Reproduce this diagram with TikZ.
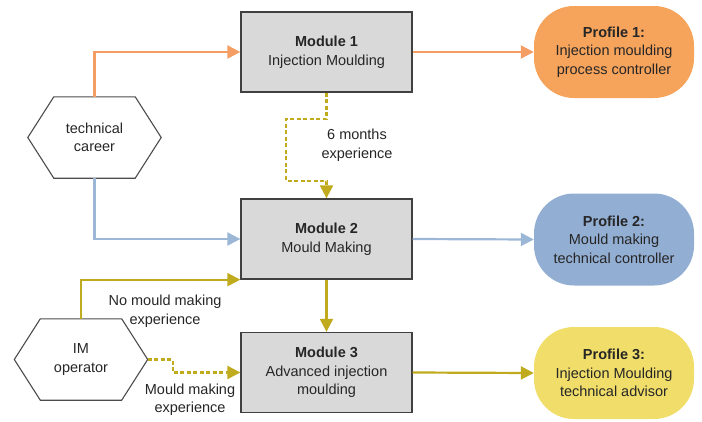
\documentclass[tikz,border=0pt]{standalone}
\usepackage{fontspec}
\setmainfont{Liberation Sans}
\usetikzlibrary{positioning, arrows.meta}

\definecolor{orangeline}{RGB}{245,158,100}
\definecolor{orangefill}{RGB}{246,163,92}
\definecolor{blueline}{RGB}{156,182,214}
\definecolor{bluefill}{RGB}{147,174,211}
\definecolor{oliveline}{RGB}{192,170,30}
\definecolor{yellowfill}{RGB}{240,221,106}
\definecolor{boxgray}{RGB}{217,217,217}

\begin{document}
\begin{tikzpicture}[x=1pt, y=-1pt,
        every node/.style={font=\fontsize{14.5}{18.5}\selectfont, text=black!85, align=center},
        module/.style={draw=black!75, line width=1.3pt, fill=boxgray, minimum width=171pt, minimum height=80pt, inner sep=0pt},
        profile/.style={rounded corners=40pt, minimum width=160pt, minimum height=92pt, inner sep=0pt},
        hexnode/.style={minimum width=133pt, minimum height=81pt, inner sep=0pt},
        hexline/.style={draw=black!70, line width=1.1pt},
        flow/.style={line width=2.2pt, -{Triangle[length=13pt,width=13pt]}},
        exp/.style={flow, dash pattern=on 4pt off 2.5pt}]
        % the page
        \useasboundingbox (0,0) rectangle (702,421);

        % the modules
        \node[module] (m1) at (326.5,52) {\textbf{Module 1}\\Injection Moulding};
        \node[module] (m2) at (326.5,239) {\textbf{Module 2}\\Mould Making};
        \node[module] (m3) at (326.5,372.5) {\textbf{Module 3}\\Advanced injection\\moulding};

        % the profiles
        \node[profile, fill=orangefill] (p1) at (614,52) {\textbf{Profile 1:}\\Injection moulding\\process controller};
        \node[profile, fill=bluefill] (p2) at (614,239.5) {\textbf{Profile 2:}\\Mould making\\technical controller};
        \node[profile, fill=yellowfill] (p3) at (614,373) {\textbf{Profile 3:}\\Injection Moulding\\technical advisor};

        % the entry hexagons
        \node[hexnode] (career) at (94.5,137.5) {technical\\career};
        \node[hexnode] (im) at (81,359.5) {IM\\operator};
        \draw[hexline] (career.west) -- ([xshift=26pt]career.north west) -- ([xshift=-26pt]career.north east)
            -- (career.east) -- ([xshift=-26pt]career.south east) -- ([xshift=26pt]career.south west) -- cycle;
        \draw[hexline] (im.west) -- ([xshift=26pt]im.north west) -- ([xshift=-26pt]im.north east)
            -- (im.east) -- ([xshift=-26pt]im.south east) -- ([xshift=26pt]im.south west) -- cycle;

        % orange route
        \draw[flow, orangeline] (career.north) |- (m1.west);
        \draw[flow, orangeline] (m1.east) -- (p1.west);

        % blue route
        \draw[flow, blueline] (career.south) |- (m2.west);
        \draw[flow, blueline] (m2.east) -- (p2.west);

        % olive routes
        \draw[exp, oliveline] (m1.south) -- ++(0,26) -- ++(-40.5,0) -- ++(0,62) -- ++(40.5,0) -- (m2.north);
        \node (six) at (357,145) {6 months\\experience};
        \draw[flow, oliveline] (m2.south) -- (m3.north);
        \draw[flow, oliveline] (im.north) |- (m2.south west);
        \node (nomould) at (165,311) {No mould making\\experience};
        \draw[exp, oliveline] (im.east) -- ++(25,0) |- (m3.west);
        \node (mould) at (190,399.5) {Mould making\\experience};
        \draw[flow, oliveline] (m3.east) -- (p3.west);
    \end{tikzpicture}
\end{document}
